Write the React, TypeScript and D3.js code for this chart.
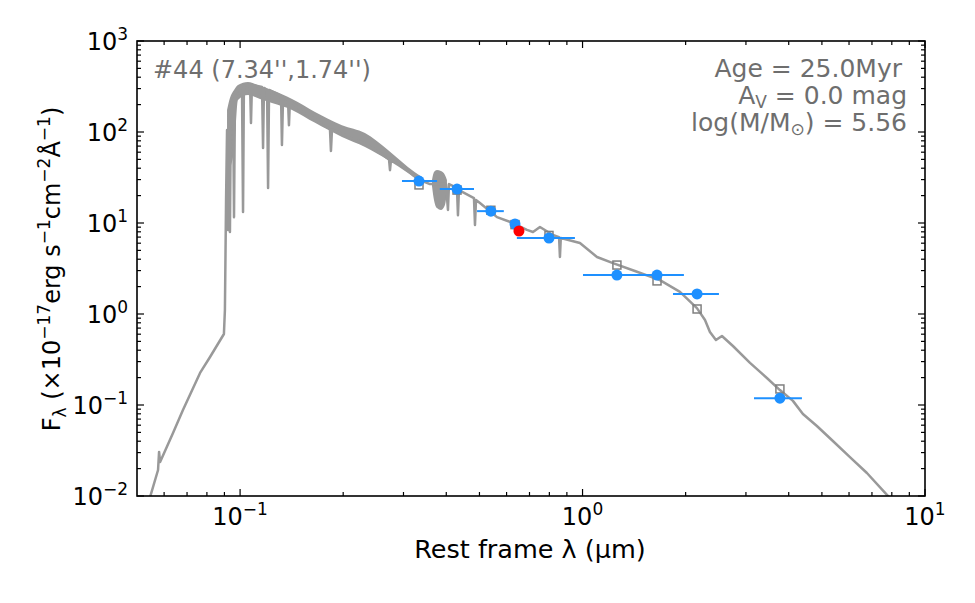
import * as d3 from "d3";

// model spectrum (rest-frame wavelength in micron, flux in 1e-17 erg/s/cm2/A)
const specLam = [
  0.0538, 0.0546, 0.0576, 0.058, 0.0584, 0.0637, 0.0681, 0.0764, 0.0817, 0.0897,
  0.0903, 0.091, 0.0916, 0.0922, 0.0928, 0.0934, 0.094, 0.0954, 0.096, 0.0966,
  0.0999, 0.1013, 0.102, 0.1026, 0.1069, 0.1076, 0.1083, 0.1159, 0.1167, 0.1174,
  0.1199, 0.1207, 0.1215, 0.1317, 0.1325, 0.1335, 0.138, 0.1389, 0.1398, 0.1527,
  0.1712, 0.183, 0.1842, 0.1855, 0.2094, 0.2347, 0.2614, 0.2722, 0.274, 0.2758,
  0.2931, 0.3198, 0.3352, 0.3585, 0.3991, 0.4046, 0.4074, 0.4298, 0.4327, 0.4356,
  0.4819, 0.4852, 0.4885, 0.5017, 0.5626, 0.6262, 0.688, 0.7166, 0.751, 0.8195,
  0.854, 0.859, 0.864, 0.9826, 1.102, 1.227, 1.422, 1.683, 1.925, 2.158,
  2.278, 2.355, 2.452, 2.553, 2.749, 3.083, 3.454, 3.77, 4.115, 4.401,
  4.834, 5.383, 6.037, 6.767, 7.743, 8.168,
];
const specFlux = [
  0.008, 0.00975, 0.0193, 0.0305, 0.0236, 0.0492, 0.0881, 0.225, 0.337, 0.603,
  1.11, 17.9, 105, 8.4, 154, 7.96, 198, 225, 11.6, 243,
  275, 289, 13.2, 320, 337, 125.6, 329, 312, 66.7, 305,
  290, 24.3, 290, 249, 72, 243, 225, 119, 219, 166,
  126, 108, 62, 106, 88, 72, 56, 50, 38, 49,
  44, 33.6, 29.7, 26.8, 26.8, 13.9, 26.8, 24.3, 12.2, 23.0,
  18.8, 9.5, 17.9, 16.6, 11.6, 10, 8.4, 7.96, 9.04, 7.38,
  7.0, 4.23, 6.84, 6.03, 4.23, 3.63, 2.97, 2.36, 1.75, 1.16,
  0.859, 0.634, 0.518, 0.573, 0.445, 0.29, 0.198, 0.146, 0.111, 0.0796,
  0.0588, 0.0402, 0.0268, 0.0179, 0.0103, 0.008,
];

// noisy envelope of the spectrum in the UV and around the Balmer break
const uvBandLam = [0.0916, 0.0934, 0.096, 0.0986, 0.1054, 0.1143, 0.1239, 0.1418, 0.1655, 0.1984, 0.2316, 0.2703, 0.3091, 0.3397];
const uvBandHi = [174, 236, 289, 329, 354, 320, 289, 230, 166, 119, 97.5, 63.4, 41.3, 32.0];
const uvBandLo = [26.2, 38.2, 63.4, 225, 255, 230, 208, 175, 126, 88, 68.4, 49.2, 35.4, 27.5];
const balmerLam = [0.3634, 0.3683, 0.3757, 0.386, 0.3965, 0.4018];
const balmerHi = [29.7, 36.3, 38.2, 37.3, 33.7, 29.7];
const balmerLo = [25.5, 17.9, 14.6, 13.9, 15.8, 21.9];

// observed photometry
const photLam = [0.333, 0.43, 0.54, 0.635, 0.798, 1.26, 1.65, 2.16, 3.77];
const photFlux = [28.9, 23.6, 13.5, 9.75, 6.84, 2.68, 2.68, 1.66, 0.119];
const photLamLo = [0.297, 0.383, 0.492, 0.628, 0.643, 1.003, 1.321, 1.837, 3.167];
const photLamHi = [0.376, 0.482, 0.589, 0.642, 0.95, 1.584, 1.977, 2.502, 4.371];
const modelFlux = [26.2, 23.0, 13.8, 9.6, 7.3, 3.45, 2.31, 1.135, 0.15];
const haLam = [0.652];
const haFlux = [8.17];

const yTicks = [1e-2, 1e-1, 1, 10, 100, 1000];
const yExp = ["−2", "−1", "0", "1", "2", "3"];
const xTicks = [0.1, 1, 10];
const xExp = ["−1", "0", "1"];

const W = 975;
const H = 603;
const left = 137;
const top = 41;
const right = 925;
const bottom = 496;
const FONT = "DejaVu Sans";
const GRAY = "#999999";
const BLUE = "#1E90FF";
const TXT = "#6e6e6e";

function minorTicks(lo: number, hi: number) {
  const out: number[] = [];
  for (let k = -3; k <= 3; k++) {
    for (let m = 2; m <= 9; m++) {
      const v = m * Math.pow(10, k);
      if (v > lo && v < hi) out.push(v);
    }
  }
  return out;
}

export default function App() {
  const x = d3.scaleLog().domain([0.05, 10]).range([left, right]);
  const y = d3.scaleLog().domain([0.01, 1000]).range([bottom, top]);

  const spec = specLam.map((l, i) => [l, specFlux[i]] as [number, number]);
  const line = d3
    .line<[number, number]>()
    .x((d) => x(d[0]))
    .y((d) => y(d[1]));
  const uvArea = d3
    .area<number>()
    .x((l) => x(l))
    .y0((_l, i) => y(uvBandLo[i]))
    .y1((_l, i) => y(uvBandHi[i]))
    .curve(d3.curveMonotoneX)(uvBandLam);
  const balmerArea = d3
    .area<number>()
    .x((l) => x(l))
    .y0((_l, i) => y(balmerLo[i]))
    .y1((_l, i) => y(balmerHi[i]))
    .curve(d3.curveMonotoneX)(balmerLam);

  const xMinor = minorTicks(0.05, 10);
  const yMinor = minorTicks(0.01, 1000);
  const maj = 7;
  const mnr = 4;
  const fs = 24;
  const sup = 17;

  return (
    <svg
      width={W}
      height={H}
      style={{ position: "absolute", left: 0, top: 0, background: "#fff" }}
      fontFamily={FONT}
    >
      <defs>
        <clipPath id="plot">
          <rect x={left} y={top} width={right - left} height={bottom - top} />
        </clipPath>
      </defs>

      <g clipPath="url(#plot)">
        <path d={uvArea || ""} fill={GRAY} />
        <path d={balmerArea || ""} fill={GRAY} />
        <path
          d={line(spec) || ""}
          fill="none"
          stroke={GRAY}
          strokeWidth={2.5}
          strokeLinejoin="round"
        />
        {photLam.map((l, i) => (
          <rect
            key={"m" + i}
            x={x(l) - 4}
            y={y(modelFlux[i]) - 4}
            width={8}
            height={8}
            fill="none"
            stroke="#808080"
            strokeWidth={1.5}
          />
        ))}
        {photLam.map((l, i) => (
          <line
            key={"e" + i}
            x1={x(photLamLo[i])}
            x2={x(photLamHi[i])}
            y1={y(photFlux[i])}
            y2={y(photFlux[i])}
            stroke={BLUE}
            strokeWidth={2}
          />
        ))}
        {photLam.map((l, i) => (
          <circle key={"p" + i} cx={x(l)} cy={y(photFlux[i])} r={5.5} fill={BLUE} />
        ))}
        {haLam.map((l, i) => (
          <circle key={"h" + i} cx={x(l)} cy={y(haFlux[i])} r={5.5} fill="#ff0000" />
        ))}
      </g>

      {/* ticks, pointing inward on all four sides */}
      <g stroke="#000" strokeWidth={1.2}>
        {xTicks.concat(xMinor).map((v, i) => {
          const len = i < xTicks.length ? maj : mnr;
          const px = x(v);
          return (
            <g key={"xt" + i}>
              <line x1={px} x2={px} y1={bottom} y2={bottom - len} />
              <line x1={px} x2={px} y1={top} y2={top + len} />
            </g>
          );
        })}
        {yTicks.concat(yMinor).map((v, i) => {
          const len = i < yTicks.length ? maj : mnr;
          const py = y(v);
          return (
            <g key={"yt" + i}>
              <line x1={left} x2={left + len} y1={py} y2={py} />
              <line x1={right} x2={right - len} y1={py} y2={py} />
            </g>
          );
        })}
      </g>
      <rect
        x={left}
        y={top}
        width={right - left}
        height={bottom - top}
        fill="none"
        stroke="#000"
        strokeWidth={1.6}
      />

      {/* tick labels */}
      {yTicks.map((v, i) => (
        <text key={"yl" + i} x={left - 9} y={y(v) + 9} textAnchor="end" fontSize={fs} fill="#000">
          10
          <tspan dy={-10} fontSize={sup}>
            {yExp[i]}
          </tspan>
        </text>
      ))}
      {xTicks.map((v, i) => (
        <text key={"xl" + i} x={x(v)} y={bottom + 29} textAnchor="middle" fontSize={fs} fill="#000">
          10
          <tspan dy={-10} fontSize={sup}>
            {xExp[i]}
          </tspan>
        </text>
      ))}

      {/* axis labels */}
      <text x={(left + right) / 2 - 1} y={558} textAnchor="middle" fontSize={25.5} fill="#000">
        Rest frame λ (μm)
      </text>
      <text transform="translate(60,269) rotate(-90)" textAnchor="middle" fontSize={fs} fill="#000">
        F
        <tspan dy={6} fontSize={sup}>λ</tspan>
        <tspan dy={-6}> (×10</tspan>
        <tspan dy={-10} fontSize={sup}>−17</tspan>
        <tspan dy={10}>erg s</tspan>
        <tspan dy={-10} fontSize={sup}>−1</tspan>
        <tspan dy={10}>cm</tspan>
        <tspan dy={-10} fontSize={sup}>−2</tspan>
        <tspan dy={10}>Å</tspan>
        <tspan dy={-10} fontSize={sup}>−1</tspan>
        <tspan dy={10}>)</tspan>
      </text>

      {/* annotations */}
      <text x={153} y={78} fontSize={fs} fill={TXT}>
        #44 (7.34'',1.74'')
      </text>
      <text x={902} y={77} textAnchor="end" fontSize={25} fill={TXT}>
        Age = 25.0Myr
      </text>
      <text x={907} y={104} textAnchor="end" fontSize={25} fill={TXT}>
        A<tspan dy={4} fontSize={sup}>V</tspan>
        <tspan dy={-4}> = 0.0 mag</tspan>
      </text>
      <text x={907} y={131} textAnchor="end" fontSize={25} fill={TXT}>
        log(M/M<tspan dy={4} fontSize={sup}>⊙</tspan>
        <tspan dy={-4}>) = 5.56</tspan>
      </text>
    </svg>
  );
}
